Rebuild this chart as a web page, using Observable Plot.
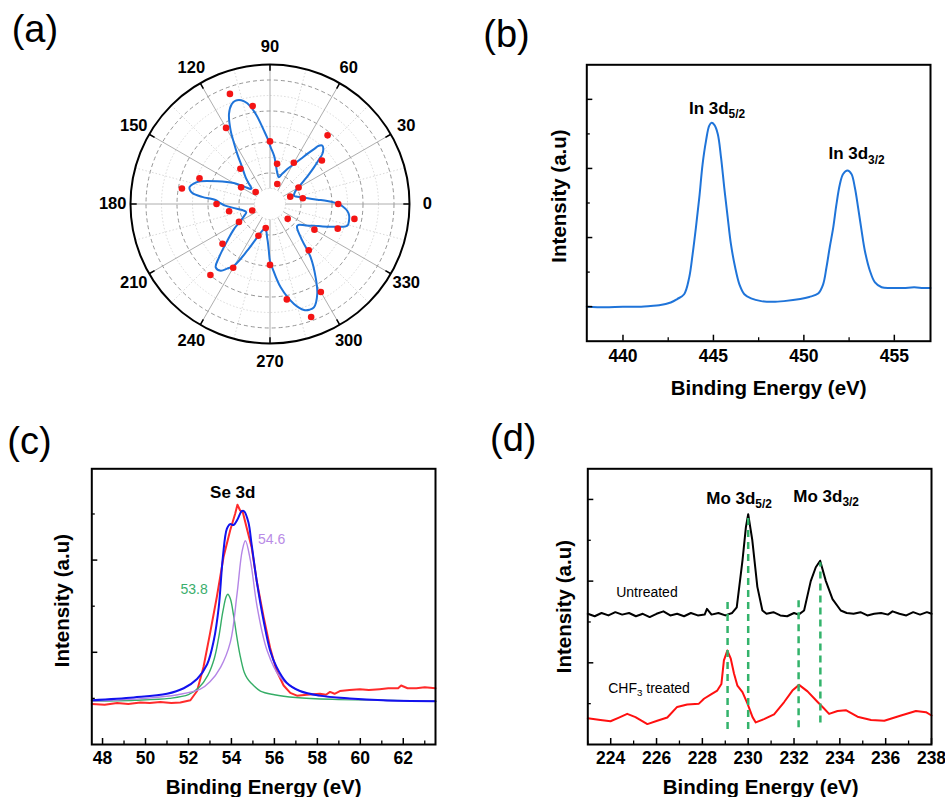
<!DOCTYPE html>
<html><head><meta charset="utf-8">
<script src="https://cdn.jsdelivr.net/npm/d3@7"></script>
<script src="https://cdn.jsdelivr.net/npm/@observablehq/plot@0.6"></script>
<style>
body{margin:0;background:#fff;}
#fig{position:relative;width:945px;height:797px;overflow:hidden;font-family:"Liberation Sans",Arial,sans-serif;background:#fff;}
#fig svg{position:absolute;overflow:visible;}
.plabel{position:absolute;font-size:38px;line-height:1;font-weight:normal;color:#000;}
</style></head>
<body><div id="fig"></div>
<script>
// ---------- (a) polar data ----------
const polarAngle = [0,10,20,30,40,50,60,70,80,90,100,110,120,130,140,150,160,170,180,190,200,210,220,230,240,250,260,270,280,290,300,310,320,330,340,350];
const polarValue = [4.4,2.15,1.39,2.13,4.37,5.78,3.07,1.37,2.63,4.04,6.42,7.56,5.67,2.97,1.21,2.15,4.84,5.77,3.45,2.68,1.22,2.31,4.0,5.98,4.75,2.18,1.58,3.93,6.25,7.76,6.56,3.89,1.49,3.31,4.65,5.53];
const fitAngle = [0,3,5.2,8,12.3,16,19,23,27.5,31,34.5,37,39.8,42,43.7,46,48,50,51.3,53.5,55.7,59,63.7,68,72,76,79,81.9,85,89.3,92,94.7,99,102.7,105.5,108.4,111,114.5,118.2,120.5,123.2,127,132.4,136,140,142.2,146,150,156.7,161.9,165,168,170,172,174,176,179,182,185,189,194,199,204,210,215,220.7,226.3,229.4,233.5,236.5,239.7,244,249,254,258,262,265,266.5,268.5,270,272,277.3,283.5,287.8,290.5,293,297.7,301.9,307.3,311.4,317.5,321,324.5,329,333.8,337,340.5,344.3,348,352,355,358];
const fitValue = [4.45,3.7,3.07,2.55,2.03,1.75,1.64,1.7,1.87,2.2,2.66,3.1,3.69,4.2,4.67,4.95,5.06,4.9,4.54,4.0,3.51,3.0,2.52,2.1,1.82,2.0,2.25,2.61,3.1,3.66,4.2,4.75,5.88,6.66,6.95,7.03,6.9,6.38,5.37,4.6,3.85,3.0,2.33,1.9,1.55,1.58,2.0,2.7,3.71,4.72,5.1,5.3,5.25,5.05,4.4,3.5,3.2,2.9,2.5,2.1,1.75,1.62,1.8,2.2,2.85,3.63,4.76,5.38,5.35,5.0,4.61,3.35,2.3,1.79,1.62,1.75,2.16,2.4,3.0,3.7,4.1,5.42,6.63,7.18,7.28,7.25,6.56,5.57,4.33,3.15,2.39,2.25,2.3,2.7,3.17,3.7,4.38,5.18,5.21,5.15,5.0,4.7];
const polarTickLabels = [0,30,60,90,120,150,180,210,240,270,300,330];
const polarMajorRings = [2,4,6,8];
const polarMinorRings = [1,3,5,7];
const polarMinorSpokes = [15,45,75,105,135,165,195,225,255,285,315,345];
const polarMax = 9;

// ---------- (b) In 3d ----------
const bEnergy = [438.0,439.0,440.0,441.0,441.53,442.0,442.64,443.0,443.38,443.66,443.85,444.03,444.22,444.4,444.59,444.77,444.9,445.05,445.24,445.42,445.6,445.79,445.97,446.2,446.44,446.71,447.08,447.64,448.3,448.9,449.8,450.3,450.79,451.06,451.25,451.43,451.62,451.8,451.99,452.17,452.41,452.63,452.82,453.0,453.19,453.37,453.65,453.93,454.3,454.85,455.5,456.1,456.6,457.0];
const bIntensity = [1.0,0.99,1.0,1.0,1.01,1.02,1.06,1.11,1.18,1.42,1.76,2.14,2.58,3.06,3.4,3.62,3.66,3.63,3.5,3.16,2.72,2.29,1.9,1.57,1.32,1.18,1.12,1.08,1.07,1.08,1.11,1.14,1.19,1.32,1.57,1.86,2.14,2.48,2.77,2.92,2.97,2.92,2.72,2.43,2.1,1.81,1.52,1.35,1.28,1.27,1.27,1.28,1.27,1.27];
const bXMajor = [440,445,450,455], bXMinor = [442.5,447.5,452.5];
const bYMajor = [1,2,3,4], bYMinor = [1.5,2.5,3.5];

// ---------- (c) Se 3d ----------
const cRedEnergy = [47.5,48.1,48.68,49.2,49.76,50.2,50.69,51.2,51.62,52.09,52.4,52.7,53.0,53.32,53.63,53.94,54.17,54.28,54.4,54.53,54.71,54.94,55.18,55.5,55.8,56.1,56.43,56.74,57.05,57.5,58.12,58.4,58.59,58.8,59.05,59.5,59.98,60.4,60.9,61.3,61.76,61.9,62.2,62.61,63.0,63.5];
const cRedIntensity = [0.44,0.43,0.45,0.44,0.455,0.45,0.46,0.45,0.455,0.48,0.58,0.84,1.2,1.6,2.03,2.32,2.5,2.6,2.54,2.52,2.35,2.14,1.77,1.38,1.05,0.8,0.64,0.56,0.53,0.54,0.55,0.54,0.57,0.55,0.58,0.59,0.6,0.59,0.6,0.61,0.61,0.64,0.61,0.61,0.62,0.61];
const cFitEnergy = [47.5,49.45,51.0,51.78,52.4,52.87,53.18,53.41,53.6,53.79,53.94,54.1,54.28,54.48,54.59,54.79,54.94,55.18,55.5,55.8,56.1,56.57,57.19,58.12,59.51,61.06,63.5];
const cFitIntensity = [0.48,0.51,0.55,0.61,0.71,0.87,1.13,1.49,2.03,2.34,2.39,2.38,2.44,2.53,2.53,2.41,2.17,1.77,1.34,1.02,0.84,0.67,0.58,0.53,0.5,0.48,0.47];
const cGreenEnergy = [47.5,49.5,51.1,52.0,52.5,52.9,53.2,53.4,53.6,53.75,53.83,53.95,54.1,54.25,54.4,54.6,54.73,54.9,55.35,56.0,57.0,58.7,61.0,63.5];
const cGreenIntensity = [0.47,0.48,0.5,0.54,0.62,0.75,0.93,1.15,1.44,1.6,1.63,1.58,1.4,1.17,0.97,0.78,0.72,0.67,0.58,0.54,0.51,0.49,0.48,0.47];
const cPurpleEnergy = [47.5,50.0,51.5,52.55,53.0,53.5,53.95,54.26,54.5,54.65,54.88,55.2,55.66,56.27,57.2,58.7,61.0,63.5];
const cPurpleIntensity = [0.47,0.5,0.54,0.6,0.68,0.84,1.11,1.63,2.1,2.21,2.0,1.49,1.02,0.73,0.58,0.51,0.48,0.47];
const cXMajor = [48,50,52,54,56,58,60,62], cXMinor = [49,51,53,55,57,59,61,63];
const cYMajor = [1,2], cYMinor = [0.5,1.5,2.5];

// ---------- (d) Mo 3d ----------
const dBlackEnergy = [223.0,223.3,223.6,223.9,224.2,224.5,224.8,225.1,225.4,225.7,226.0,226.3,226.6,226.9,227.2,227.5,227.8,228.1,228.2,228.4,228.7,229.0,229.3,229.5,229.75,229.9,230.0,230.18,230.4,230.62,230.8,231.1,231.4,231.7,232.0,232.2,232.44,232.73,232.95,233.14,233.39,233.68,234.04,234.3,234.6,234.9,235.2,235.5,235.8,236.1,236.3,236.6,236.9,237.2,237.5,237.8,238.0];
const dBlackIntensity = [1.60,1.57,1.61,1.58,1.62,1.59,1.61,1.57,1.60,1.56,1.60,1.63,1.58,1.60,1.57,1.61,1.58,1.59,1.66,1.59,1.61,1.58,1.61,1.68,2.25,2.66,2.82,2.5,1.93,1.64,1.60,1.62,1.58,1.57,1.61,1.59,1.64,2.0,2.17,2.25,2.0,1.78,1.64,1.61,1.60,1.62,1.58,1.60,1.61,1.59,1.63,1.60,1.58,1.62,1.59,1.62,1.60];
const dRedEnergy = [223.0,223.55,223.99,224.36,224.72,225.08,225.6,226.03,226.47,226.9,227.34,227.85,228.07,228.36,228.65,228.83,228.94,229.09,229.24,229.38,229.53,229.75,229.97,230.19,230.33,230.69,231.13,231.57,231.93,232.22,232.59,233.03,233.31,233.53,233.9,234.26,234.77,235.36,235.94,236.67,237.32,237.76,238.0];
const dRedIntensity = [0.32,0.30,0.285,0.33,0.375,0.335,0.25,0.29,0.33,0.46,0.49,0.5,0.56,0.61,0.66,0.74,1.03,1.15,1.05,0.87,0.72,0.64,0.5,0.335,0.27,0.31,0.37,0.52,0.66,0.73,0.65,0.52,0.44,0.375,0.41,0.42,0.34,0.30,0.29,0.355,0.41,0.395,0.355];
const dGuideEnergy = [229.1,230.0,232.2,233.15];
const dGuideTop = [1.78,2.8,1.78,2.23];
const dGuideBottom = [0.19,0.19,0.21,0.27];
const dXMajor = [224,226,228,230,232,234,236,238], dXMinor = [223,225,227,229,231,233,235,237];
const dYMajor = [1,2,3], dYMinor = [0.5,1.5,2.5];

// ---------- helpers ----------
const FONT = "'Liberation Sans', Arial, sans-serif";
const fig = document.getElementById("fig");
const zip = (xs, ys) => xs.map((x, i) => ({x, y: ys[i]}));
function subscripts(root){
  const ns = "http://www.w3.org/2000/svg";
  root.querySelectorAll("text").forEach(t => {
    const s = t.textContent;
    if (!s.includes("_{")) return;
    t.textContent = "";
    const parts = s.split(/_\{([^}]*)\}/);
    let shifted = false;
    parts.forEach((p, i) => {
      if (p === "") return;
      const ts = document.createElementNS(ns, "tspan");
      ts.textContent = p;
      if (i % 2 === 1) { ts.setAttribute("font-size", "70%"); ts.setAttribute("dy", "0.35em"); shifted = true; }
      else if (shifted) { ts.setAttribute("dy", "-0.245em"); shifted = false; }
      t.appendChild(ts);
    });
  });
}
function place(svg, left, top){ svg.style.left = left + "px"; svg.style.top = top + "px"; fig.appendChild(svg); subscripts(svg); }
function panelLabel(txt, left, baseline){
  const d = document.createElement("div"); d.className = "plabel"; d.textContent = txt;
  d.style.left = left + "px"; d.style.top = (baseline - 0.8465 * 38) + "px"; fig.appendChild(d);
}

// ---------- (a) polar ----------
{
  const W = 470, H = 400, CX = 269.5, CY = 203.5, RPX = 139.5;
  const k = RPX / polarMax;
  const rad = t => t * Math.PI / 180;
  const px = (t, r) => r * Math.cos(rad(t)), py = (t, r) => r * Math.sin(rad(t));
  const fit = zip(fitAngle, fitValue), pts = zip(polarAngle, polarValue);
  const svg = Plot.plot({
    width: W, height: H, margin: 0,
    style: {fontFamily: FONT, fontSize: "16px", background: "none", overflow: "visible"},
    x: {domain: [-CX / k, (W - CX) / k], axis: null},
    y: {domain: [-(H - CY) / k, CY / k], axis: null},
    r: {type: "identity"},
    marks: [
      Plot.dot(polarMinorRings, {x: () => 0, y: () => 0, r: d => d * k, stroke: "#cfcfcf", strokeWidth: 0.8, strokeDasharray: "1.5,2", fill: "none"}),
      Plot.dot(polarMajorRings, {x: () => 0, y: () => 0, r: d => d * k, stroke: "#8a8a8a", strokeWidth: 0.9, strokeDasharray: "4,3", fill: "none"}),
      Plot.link(polarMinorSpokes, {x1: d => px(d, 1), y1: d => py(d, 1), x2: d => px(d, polarMax), y2: d => py(d, polarMax), stroke: "#cfcfcf", strokeWidth: 0.8, strokeDasharray: "1.5,2"}),
      Plot.link(polarTickLabels, {x1: d => px(d, 1), y1: d => py(d, 1), x2: d => px(d, polarMax), y2: d => py(d, polarMax), stroke: "#a5a5a5", strokeWidth: 0.9}),
      Plot.dot([polarMax], {x: () => 0, y: () => 0, r: d => d * k, stroke: "#000", strokeWidth: 2, fill: "none"}),
      Plot.link(polarTickLabels, {x1: d => px(d, polarMax), y1: d => py(d, polarMax), x2: d => px(d, polarMax - 0.4), y2: d => py(d, polarMax - 0.4), stroke: "#000", strokeWidth: 1.5}),
      Plot.line(fit, {x: d => px(d.x, d.y), y: d => py(d.x, d.y), curve: "catmull-rom-closed", stroke: "#1f74d9", strokeWidth: 2}),
      Plot.dot(pts, {x: d => px(d.x, d.y), y: d => py(d.x, d.y), r: 3.3, fill: "#f41414"}),
      Plot.text(polarTickLabels, {x: d => px(d, 10.15), y: d => py(d, 10.15), text: d => String(d), fontWeight: "bold", fontSize: 16.5, fill: "#000"})
    ]
  });
  place(svg, 0, 0);
}

// ---------- generic XPS panel ----------
function xps(o){
  const fw = o.width - o.ml - o.mr, fh = o.height - o.mt - o.mb;
  const svg = Plot.plot({
    width: o.width, height: o.height,
    marginLeft: o.ml, marginRight: o.mr, marginTop: o.mt, marginBottom: o.mb,
    style: {fontFamily: FONT, fontSize: "16px", background: "none", overflow: "visible"},
    x: {domain: o.xDomain, axis: null},
    y: {domain: o.yDomain, axis: null},
    marks: [
      ...o.marks,
      Plot.tickX(o.xMajor, {x: d => d, insetTop: fh - 6, stroke: "#000", strokeWidth: 1.5}),
      Plot.tickX(o.xMinor, {x: d => d, insetTop: fh - 3.5, stroke: "#000", strokeWidth: 1.3}),
      Plot.tickY(o.yMajor, {y: d => d, insetRight: fw - 6, stroke: "#000", strokeWidth: 1.5}),
      Plot.tickY(o.yMinor, {y: d => d, insetRight: fw - 3.5, stroke: "#000", strokeWidth: 1.3}),
      Plot.frame({stroke: "#000", strokeWidth: 2}),
      Plot.text(o.xMajor, {x: d => d, frameAnchor: "bottom", dy: o.tickDy, lineAnchor: "bottom", textAnchor: "middle", text: d => String(d), fontWeight: "bold", fontSize: 17.5, fill: "#000"}),
      Plot.text(["Binding Energy (eV)"], {frameAnchor: "bottom", dx: o.titleDx, dy: o.titleDy, lineAnchor: "bottom", textAnchor: "middle", fontWeight: "bold", fontSize: 20.5, fill: "#000"}),
      Plot.text(["Intensity (a.u)"], {frameAnchor: "left", dx: o.yTitleDx, dy: o.yTitleDy, rotate: -90, lineAnchor: "bottom", textAnchor: "middle", fontWeight: "bold", fontSize: 20.5, fill: "#000"})
    ]
  });
  place(svg, o.left, o.top);
}

// ---------- (b) ----------
xps({
  left: 470, top: 0, width: 475, height: 400, ml: 116.3, mr: 15, mt: 64.3, mb: 59.3,
  xDomain: [438, 457], yDomain: [0.5, 4.5],
  xMajor: bXMajor, xMinor: bXMinor, yMajor: bYMajor, yMinor: bYMinor,
  tickDy: 20.5, titleDx: 10, titleDy: 53.5, yTitleDx: -21, yTitleDy: -7,
  marks: [
    Plot.line(zip(bEnergy, bIntensity), {x: "x", y: "y", curve: "catmull-rom", stroke: "#1f74d9", strokeWidth: 2}),
    Plot.text(["In 3d_{5/2}"], {x: () => 445.2, y: () => 3.79, lineAnchor: "bottom", fontWeight: "bold", fontSize: 17, fill: "#000"}),
    Plot.text(["In 3d_{3/2}"], {x: () => 452.91, y: () => 3.13, lineAnchor: "bottom", fontWeight: "bold", fontSize: 17, fill: "#000"})
  ]
});

// ---------- (c) ----------
xps({
  left: 0, top: 400, width: 470, height: 397, ml: 91.3, mr: 35, mt: 68.3, mb: 53,
  xDomain: [47.5, 63.5], yDomain: [0, 2.99],
  xMajor: cXMajor, xMinor: cXMinor, yMajor: cYMajor, yMinor: cYMinor,
  tickDy: 19.5, titleDx: 0, titleDy: 49.5, yTitleDx: -23, yTitleDy: -6,
  marks: [
    Plot.line(zip(cRedEnergy, cRedIntensity), {x: "x", y: "y", stroke: "#ff2b2b", strokeWidth: 2}),
    Plot.line(zip(cGreenEnergy, cGreenIntensity), {x: "x", y: "y", curve: "catmull-rom", stroke: "#35ad66", strokeWidth: 1.4}),
    Plot.line(zip(cPurpleEnergy, cPurpleIntensity), {x: "x", y: "y", curve: "catmull-rom", stroke: "#b485e6", strokeWidth: 1.4}),
    Plot.line(zip(cFitEnergy, cFitIntensity), {x: "x", y: "y", curve: "catmull-rom", stroke: "#1212ee", strokeWidth: 2}),
    Plot.text(["Se 3d"], {x: () => 54.06, y: () => 2.67, lineAnchor: "bottom", fontWeight: "bold", fontSize: 17, fill: "#000"}),
    Plot.text(["54.6"], {x: () => 55.24, y: () => 2.17, lineAnchor: "bottom", textAnchor: "start", fontSize: 14, fill: "#b98be6"}),
    Plot.text(["53.8"], {x: () => 51.63, y: () => 1.63, lineAnchor: "bottom", textAnchor: "start", fontSize: 14, fill: "#3aae6c"})
  ]
});

// ---------- (d) ----------
xps({
  left: 470, top: 400, width: 475, height: 397, ml: 117.3, mr: 14, mt: 68.3, mb: 53,
  xDomain: [223, 238], yDomain: [0, 3.375],
  xMajor: dXMajor, xMinor: dXMinor, yMajor: dYMajor, yMinor: dYMinor,
  tickDy: 19.5, titleDx: 1, titleDy: 49.5, yTitleDx: -17, yTitleDy: 0,
  marks: [
    Plot.line(zip(dBlackEnergy, dBlackIntensity), {x: "x", y: "y", stroke: "#000", strokeWidth: 2}),
    Plot.line(zip(dRedEnergy, dRedIntensity), {x: "x", y: "y", stroke: "#ff1010", strokeWidth: 2}),
    Plot.link(dGuideEnergy.map((x, i) => ({x, top: dGuideTop[i], bottom: dGuideBottom[i]})), {x1: "x", x2: "x", y1: "bottom", y2: "top", stroke: "#33b36b", strokeWidth: 2.5, strokeDasharray: "7,5"}),
    Plot.text(["Mo 3d_{5/2}"], {x: () => 229.6, y: () => 2.95, lineAnchor: "bottom", fontWeight: "bold", fontSize: 17, fill: "#000"}),
    Plot.text(["Mo 3d_{3/2}"], {x: () => 233.4, y: () => 2.97, lineAnchor: "bottom", fontWeight: "bold", fontSize: 17, fill: "#000"}),
    Plot.text(["Untreated"], {x: () => 224.24, y: () => 1.8, lineAnchor: "bottom", textAnchor: "start", fontSize: 14, fill: "#000"}),
    Plot.text(["CHF_{3} treated"], {x: () => 223.89, y: () => 0.63, lineAnchor: "bottom", textAnchor: "start", fontSize: 14, fill: "#000"})
  ]
});

panelLabel("(a)", 11.7, 42);
panelLabel("(b)", 483.3, 47);
panelLabel("(c)", 7.3, 453.7);
panelLabel("(d)", 490, 451.3);
</script>
</body></html>
